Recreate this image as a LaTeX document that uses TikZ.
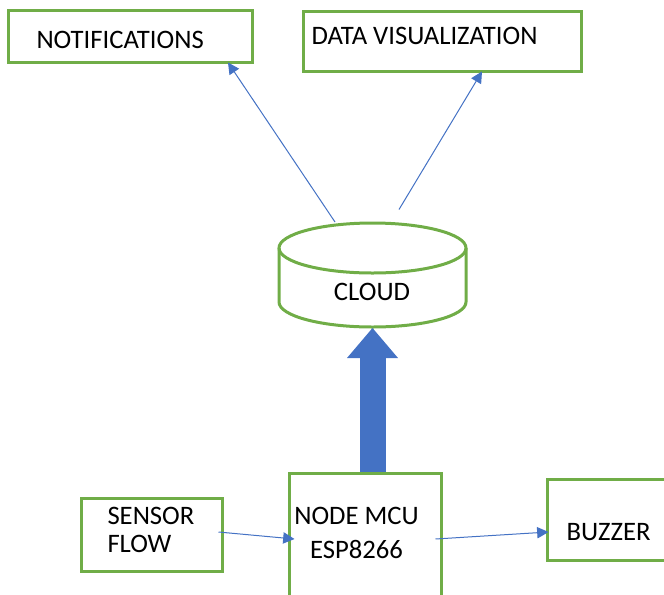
\documentclass[tikz,border=0pt]{standalone}
\usepackage{fontspec}
\setmainfont{Carlito}
\usetikzlibrary{calc,arrows.meta}

\definecolor{boxgreen}{RGB}{112,173,71}
\definecolor{linkblue}{RGB}{68,114,196}

\tikzset{every picture/.style={line width=0.75pt}}
\tikzset{
  box/.style={draw=boxgreen, line width=2.25pt, fill=white, inner sep=0pt},
  lbl/.style={inner sep=0pt, font=\fontsize{20}{24}\selectfont},
  link/.style={draw=linkblue, line width=0.75pt, -{Triangle[length=8.5pt, width=8.5pt]}},
  uplink/.style={draw=linkblue, line width=19.5pt,
    -{Triangle[length=22.5pt, width=38.25pt, line width=0pt]}}
}

\begin{document}
\begin{tikzpicture}[x=0.75pt,y=0.75pt,yscale=-1,xscale=1]
\useasboundingbox (0,0) rectangle (664,594);
\clip (0,0) rectangle (664,594);

%Shape: Rectangle [notifications]
\node[box, minimum width=183pt, minimum height=39pt] (notif) at (130,36) {};
%Shape: Rectangle [data visualization]
\node[box, minimum width=208.5pt, minimum height=45pt] (datavis) at (442,41) {};
%Shape: Rectangle [sensor]
\node[box, minimum width=105.75pt, minimum height=54.75pt] (sensor) at (151.5,534.5) {};
%Shape: Rectangle [mcu]
\node[box, minimum width=114pt, minimum height=105pt] (mcu) at (365,543) {};
%Shape: Rectangle [buzzer]
\node[box, minimum width=99.75pt, minimum height=60.75pt] (buzzer) at (613.5,519.5) {};

%Shape: Can [cloud]
\node[minimum width=140.25pt, minimum height=78.75pt, inner sep=0pt] (cloud) at (372.5,275) {};
\draw[boxgreen, line width=2.25pt] (372.5,248) ellipse [x radius=93.5, y radius=25];
\draw[boxgreen, line width=2.25pt] (279,248) -- (279,302)
  arc [start angle=180, end angle=0, x radius=93.5, y radius=25] -- (466,248);

%Straight Lines
\draw[link] ($(cloud.north)+(-37.5,0)$) -- ($(notif.south)+(98,-1)$);
\draw[link] ($(cloud.north)+(26.5,-12.5)$) -- ($(datavis.south)+(40,-1)$);
\draw[link] ($(sensor.east)+(-5,-2.5)$) -- ($(mcu.west)+(7,-4)$);
\draw[link] ($(mcu.east)+(-7,-4)$) -- ($(buzzer.west)+(3,12.5)$);
%Block Arrow
\draw[uplink] (cloud.south |- mcu.north) -- (cloud.south);

% Text Node
\node[lbl, anchor=west] (notiflbl) at (36,40) {NOTIFICATIONS};
% Text Node
\node[lbl, anchor=west] (datavislbl) at (311,36) {DATA VISUALIZATION};
% Text Node
\node[lbl] (cloudlbl) at (372,292) {CLOUD};
% Text Node
\node[lbl, anchor=west, align=left, font=\fontsize{20}{21}\selectfont] (sensorlbl) at (107,530) {SENSOR\\FLOW};
% Text Node
\node[lbl, align=center, font=\fontsize{20}{25}\selectfont] (mculbl) at (356.5,533) {NODE MCU\\ESP8266};
% Text Node
\node[lbl, anchor=west] (buzzerlbl) at (566,532) {BUZZER};
\end{tikzpicture}
\end{document}
